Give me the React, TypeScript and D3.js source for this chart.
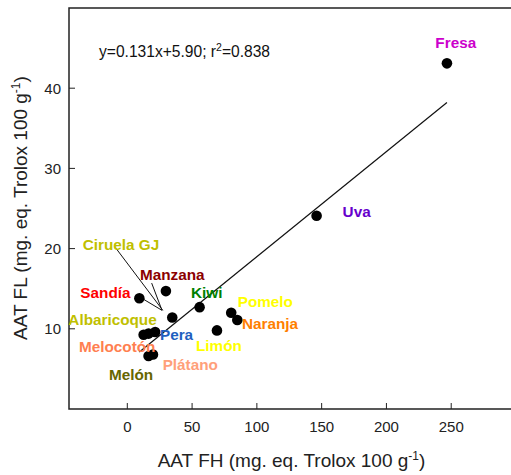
import React from 'react';
import * as d3 from 'd3';

// fruit names, AAT FH (x) and AAT FL (y) values
const fruits = ['Fresa', 'Uva', 'Sandía', 'Manzana', 'Ciruela GJ', 'Kiwi', 'Pomelo', 'Naranja', 'Limón', 'Albaricoque', 'Melocotón', 'Pera', 'Melón', 'Plátano'];
const aatFH = [246.7, 146.1, 9.3, 29.8, 34.7, 55.8, 80.2, 84.9, 69.2, 12.6, 16.4, 21.5, 16.4, 19.8];
const aatFL = [43.1, 24.1, 13.8, 14.7, 11.4, 12.7, 12.0, 11.1, 9.8, 9.25, 9.4, 9.6, 6.6, 6.8];

const xTicks = [0, 50, 100, 150, 200, 250];
const yTicks = [10, 20, 30, 40];

// regression from the chart
const slope = 0.131;
const intercept = 5.9;
const r2 = 0.838;

// label colours and offsets (px from the point)
const labelColors = ['#cc00cc', '#6600cc', '#ff0000', '#8b0000', '#bfbf00', '#008000', '#ffff00', '#ff7f00', '#ffff00', '#bfbf00', '#ff7f50', '#1f5fbf', '#666600', '#ffa07a'];
const labelOffsets: [number, number][] = [
  [-11.6, -15.3], [26, 1.3], [-59, -0.6], [-26, -11], [-89.6, -67.6], [-8.6, -9.4], [6.5, -5.5],
  [4.7, 8.7], [-21, 20.6], [-75.3, -9.8], [-69.6, 18.1], [4.8, 8], [-39.6, 24], [9.7, 15.5],
];

// leader lines in data units
const leaders: [number, number, number, number][] = [
  [-9.5, 20.2, 27.4, 12.3],
  [18.8, 15.7, 26.8, 12.3],
  [11.3, 13.8, 26.8, 12.3],
];

const font = 'Liberation Sans, Arial, sans-serif';

export default function App() {
  const left = 69, right = 516, top = 8, bottom = 409;
  const x = d3.scaleLinear().domain([-45, 300]).range([left, right]);
  const y = d3.scaleLinear().domain([0, 50]).range([bottom, top]);

  const [xmin, xmax] = d3.extent(aatFH) as [number, number];
  const fit = d3.line<number>().x(d => x(d)).y(d => y(slope * d + intercept));

  return (
    <svg width={511} height={475} style={{ position: 'absolute', left: 0, top: 0, background: '#fff' }} fontFamily={font}>
      {/* frame */}
      <path d={`M${right},${top}H${left}V${bottom}H${right}`} fill="none" stroke="#222" strokeWidth={1.5} />
      {/* x axis */}
      {xTicks.map(t => (
        <g key={t} transform={`translate(${x(t)},${bottom})`}>
          <line y2={-6} stroke="#222" strokeWidth={1} />
          <text y={22.5} textAnchor="middle" fontSize={15} fill="#222">{t}</text>
        </g>
      ))}
      {/* y axis */}
      {yTicks.map(t => (
        <g key={t} transform={`translate(${left},${y(t)})`}>
          <line x2={6} stroke="#222" strokeWidth={1} />
          <text x={-8} dy={5.3} textAnchor="end" fontSize={15} fill="#222">{t}</text>
        </g>
      ))}
      <text x={291.5} y={467} textAnchor="middle" fontSize={19} fill="#222">
        AAT FH (mg. eq. Trolox 100 g<tspan dy={-7} fontSize={12}>-1</tspan><tspan dy={7}>)</tspan>
      </text>
      <text transform="translate(27,208) rotate(-90)" textAnchor="middle" fontSize={19} fill="#222">
        AAT FL (mg. eq. Trolox 100 g<tspan dy={-7} fontSize={12}>-1</tspan><tspan dy={7}>)</tspan>
      </text>
      {/* equation */}
      <text x={99} y={56.5} fontSize={15.6} fill="#111">
        y={slope}x+{intercept.toFixed(2)}; r<tspan dy={-6} fontSize={10.5}>2</tspan><tspan dy={6}>={r2}</tspan>
      </text>
      {/* regression line */}
      <path d={fit([xmin, xmax]) || ''} fill="none" stroke="#111" strokeWidth={1.2} />
      {/* leader lines */}
      {leaders.map((l, i) => (
        <line key={i} x1={x(l[0])} y1={y(l[1])} x2={x(l[2])} y2={y(l[3])} stroke="#111" strokeWidth={1} />
      ))}
      {/* points */}
      {fruits.map((f, i) => (
        <circle key={f} cx={x(aatFH[i])} cy={y(aatFL[i])} r={5.3} fill="#000" />
      ))}
      {/* labels */}
      {fruits.map((f, i) => (
        <text key={f} x={x(aatFH[i]) + labelOffsets[i][0]} y={y(aatFL[i]) + labelOffsets[i][1]}
          fontSize={15.3} fontWeight="bold" fill={labelColors[i]}>{f}</text>
      ))}
    </svg>
  );
}
